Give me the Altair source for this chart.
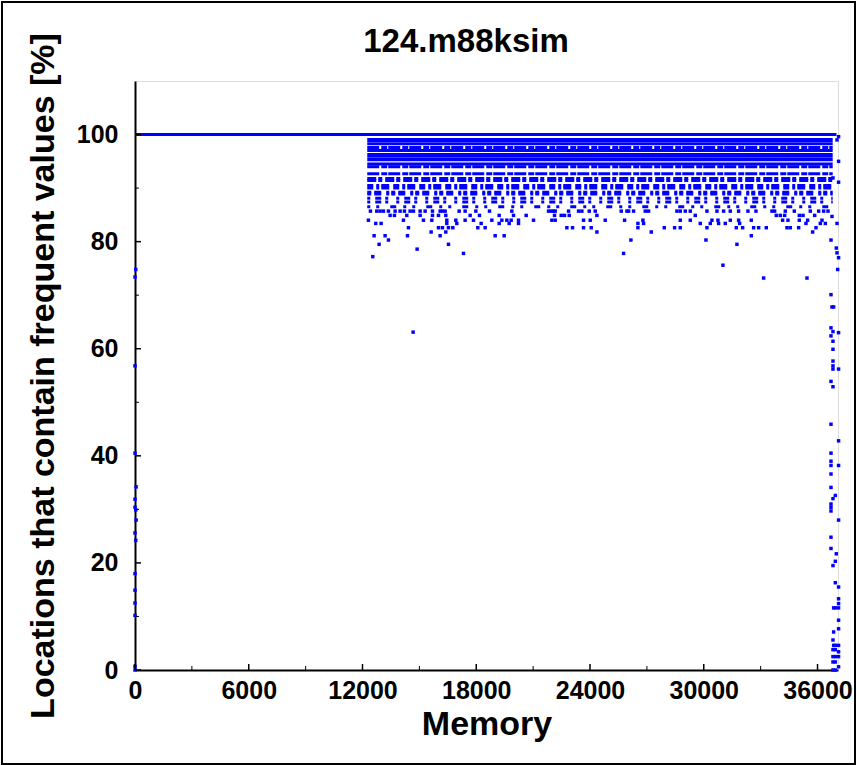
import altair as alt
import pandas as pd

BLUE = "#0000FF"
FONT = "Liberation Sans"

title_text = "124.m88ksim"
x_title = "Memory"
y_title = "Locations that contain frequent values [%]"

x_tick_values = [0, 6000, 12000, 18000, 24000, 30000, 36000]
x_minor_ticks = [3000, 9000, 15000, 21000, 27000, 33000]
y_tick_values = [0, 20, 40, 60, 80, 100]
y_minor_ticks = [10, 30, 50, 70, 90]

# continuous run of locations at 100 %
full_line_start = [0]
full_line_end = [37000]
full_line_level = [100]

# dense band of rows (memory 12250 .. 36800)
band_start = 12250
band_end = 36800
thick_solid_levels = [99.0, 96.2, 95.4]
solid_levels = [98.3, 97.0, 94.5]
near_solid_levels = [97.6, 94.0, 92.7]
dense_levels = [91.8, 91.4]
medium_levels = [90.5, 90.0]
broken_levels = [89.2, 88.9]
sparse_levels = [88.1, 87.4]
very_sparse_levels = [86.5]

# scattered points below the band, per level
row_857 = [12418, 12752, 12928, 13104, 13368, 13720, 13984, 14212, 14511, 14687, 15039, 15303,
           15690, 16094, 16218, 16358, 17097, 17414, 17977, 18698, 19876, 21812, 21953, 22076,
           22164, 22867, 23395, 23571, 23958, 24275, 25647, 25946, 26034, 26297, 26913, 27089,
           28584, 28760, 29024, 29288, 30167, 30695, 31047, 31398, 31838, 32330, 32753, 33597,
           33738, 34301, 34776, 35620, 36060, 36324, 36552]
row_849 = [13456, 13685, 14335, 15039, 15690, 16007, 16393, 17678, 18170, 19208, 19964, 20633,
           22129, 22480, 22656, 22903, 24363, 29551, 33826, 34037, 34266, 35039, 35233, 35849]
row_840 = [12313, 14160, 15215, 15655, 16446, 16921, 17414, 17853, 18821, 19349, 19612, 19841,
           20228, 21020, 21988, 22164, 23659, 24011, 24802, 25823, 26790, 28760, 29288, 30431,
           30748, 31398, 31838, 32506, 34160, 34441, 35039, 35479, 36236]
row_834 = [12700, 12981, 16446, 16974, 18258, 19208, 19736, 20228, 26526, 26825, 29815, 30343,
           30783, 31135, 31891, 35391, 36148, 36412]
row_826 = [14423, 16007, 16218, 16534, 16763, 18082, 18469, 22779, 23078, 23659, 24064, 26526,
           27916, 28461, 28760, 30167, 31715, 32049, 32630, 32894, 33298, 34389, 34565, 35004,
           35919]
row_818 = [15620, 16393, 24363, 27230, 35743]
row_811 = [12612, 13192, 14371, 16094, 18997, 19472, 32506]
row_803 = [13368, 26157, 30114]
row_795 = [12875, 16534, 31750]
row_786 = [14881]
row_778 = [17326, 25770]
row_772 = [12541]
row_756 = [31011]
row_732 = [33157, 35444]
row_631 = [14670]

# column of points at the right end of memory
right_x = [37110, 37027, 37110, 36815, 37110, 36763, 37027, 36710, 36990, 37027, 37110, 37062,
           36710, 36763, 36850, 36710, 36815, 37110, 36710, 36815, 36815, 36815, 36815, 36815,
           37110, 36710, 36815, 36710, 37110, 36710, 36710, 36710, 37110, 36710, 36710, 36940,
           36815, 36710, 36710, 36710, 37110, 36710, 36710, 36990, 36940, 36815, 36940, 37110,
           37110, 37110, 36850, 36940, 37110, 37110, 37110, 36850, 36815, 36850, 36940, 37110,
           36815, 36940, 37110, 36815, 36940, 37110, 36815, 36940, 37110, 36815, 36940]
right_y = [99.6, 99.0, 95.0, 91.9, 91.1, 84.7, 83.4, 80.3, 78.8, 77.9, 77.0, 74.8,
           70.1, 67.8, 67.8, 63.9, 63.2, 63.0, 62.4, 61.4, 59.9, 57.7, 56.8, 56.2,
           56.2, 53.9, 52.9, 45.9, 42.8, 40.5, 39.0, 38.2, 38.2, 36.6, 34.1, 32.6,
           32.0, 31.0, 30.4, 29.7, 28.0, 24.8, 22.7, 21.7, 20.3, 19.5, 16.3, 15.5,
           13.3, 12.4, 11.6, 11.6, 11.6, 9.3, 7.7, 7.1, 5.6, 4.6, 4.6, 4.6,
           3.8, 3.8, 3.4, 2.5, 2.5, 2.5, 1.5, 1.5, 0.6, 0.0, 0.0]

# column of points at the start of memory
left_x = [40, 0, 0, 0, 60, 0, 0, 40, 60, 0, 40, 0, 0, 0, 0, 0, 0]
left_y = [74.8, 73.4, 56.8, 40.5, 34.2, 31.9, 30.4, 29.9, 28.0, 25.6, 24.2, 18.0, 14.9, 12.5,
          10.2, 0.7, 0.0]

# ---------------------------------------------------------------- tables
scatter_rows = [
    (85.7, row_857), (84.9, row_849), (84.0, row_840), (83.4, row_834), (82.6, row_826),
    (81.8, row_818), (81.1, row_811), (80.3, row_803), (79.5, row_795), (78.6, row_786),
    (77.8, row_778), (77.2, row_772), (75.6, row_756), (73.2, row_732), (63.1, row_631),
]
pts_x, pts_y = [], []
for lvl, xs_ in scatter_rows:
    pts_x += xs_
    pts_y += [lvl] * len(xs_)
pts_x += right_x + left_x
pts_y += right_y + left_y
points_df = pd.DataFrame({"x": pts_x, "y": pts_y})

W, H = 703, 589
xs = alt.Scale(domain=[0, 37080], nice=False, zero=False)
ys = alt.Scale(domain=[0, 110], nice=False, zero=False)

x_axis = alt.Axis(values=x_tick_values, format="d", tickSize=0, grid=False, title=x_title,
                  labelFont=FONT, labelFontSize=25, labelFontWeight="bold", labelColor="black",
                  labelPadding=8, titleFont=FONT, titleFontSize=34, titleFontWeight="bold",
                  titleColor="black", titlePadding=4, domainColor="black", domainWidth=2,
                  labelFlush=False, labelOverlap=False)
y_axis = alt.Axis(values=y_tick_values, format="d", tickSize=0, grid=False, title=y_title,
                  labelFont=FONT, labelFontSize=25, labelFontWeight="bold", labelColor="black",
                  labelPadding=17, titleFont=FONT, titleFontSize=34, titleFontWeight="bold",
                  titleColor="black", titlePadding=16, domainColor="black", domainWidth=2,
                  labelFlush=False, labelOverlap=False)


def rows_chart(levels, start, end, width, dash=None):
    df = pd.DataFrame({"x0": [start] * len(levels), "x1": [end] * len(levels), "y": levels})
    kw = dict(color=BLUE, strokeWidth=width)
    if dash is not None:
        kw["strokeDash"] = dash
    return alt.Chart(df).mark_rule(**kw).encode(
        x=alt.X("x0:Q", scale=xs, axis=x_axis),
        x2="x1:Q",
        y=alt.Y("y:Q", scale=ys, axis=y_axis),
    )


full_df = pd.DataFrame({"x0": full_line_start, "x1": full_line_end, "y": full_line_level})
full_line = alt.Chart(full_df).mark_rule(color=BLUE, strokeWidth=3).encode(
    x=alt.X("x0:Q", scale=xs, axis=x_axis), x2="x1:Q", y=alt.Y("y:Q", scale=ys, axis=y_axis))

layers = [
    full_line,
    rows_chart(thick_solid_levels, band_start, band_end, 4),
    rows_chart(solid_levels, band_start, band_end, 3),
    rows_chart(near_solid_levels, band_start, band_end, 3, [12, 2, 6, 1]),
    rows_chart(dense_levels, band_start, band_end, 3, [9, 2, 4, 3]),
    rows_chart(medium_levels, band_start, band_end, 3, [6, 3, 3, 2, 8, 4]),
    rows_chart(broken_levels, band_start, band_end, 3, [4, 3, 7, 5, 3, 2]),
    rows_chart(sparse_levels, band_start, band_end, 3, [3, 5, 6, 4, 3, 8]),
    rows_chart(very_sparse_levels, band_start, band_end, 3, [3, 6, 3, 11, 6, 7]),
]

points = alt.Chart(points_df).mark_square(size=12, color=BLUE, opacity=1).encode(
    x=alt.X("x:Q", scale=xs, axis=x_axis), y=alt.Y("y:Q", scale=ys, axis=y_axis))
layers.append(points)

# inward tick marks
xt_major = alt.Chart(pd.DataFrame({"t": x_tick_values})).mark_rule(color="black", strokeWidth=1.5).encode(
    x=alt.X("t:Q", scale=xs, axis=x_axis), y=alt.value(H), y2=alt.value(H - 6))
xt_minor = alt.Chart(pd.DataFrame({"t": x_minor_ticks})).mark_rule(color="black", strokeWidth=1).encode(
    x=alt.X("t:Q", scale=xs, axis=x_axis), y=alt.value(H), y2=alt.value(H - 4))
yt_major = alt.Chart(pd.DataFrame({"t": y_tick_values})).mark_rule(color="black", strokeWidth=1.5).encode(
    y=alt.Y("t:Q", scale=ys, axis=y_axis), x=alt.value(0), x2=alt.value(6))
yt_minor = alt.Chart(pd.DataFrame({"t": y_minor_ticks})).mark_rule(color="black", strokeWidth=1).encode(
    y=alt.Y("t:Q", scale=ys, axis=y_axis), x=alt.value(0), x2=alt.value(4))
layers += [xt_major, xt_minor, yt_major, yt_minor]

# chart title as text
title_mark = alt.Chart(pd.DataFrame({"t": [title_text]})).mark_text(
    font=FONT, fontSize=33, fontWeight="bold", color="black", align="center",
    baseline="alphabetic").encode(text="t:N", x=alt.value(331), y=alt.value(-29))
layers.append(title_mark)

# outer picture frame
frame = alt.Chart(pd.DataFrame({"a": [0]})).mark_rect(
    fillOpacity=0, stroke="black", strokeWidth=2).encode(
    x=alt.value(-133), x2=alt.value(W + 17), y=alt.value(-79), y2=alt.value(H + 94))
layers.append(frame)

chart = alt.layer(*layers).properties(
    width=W, height=H,
    autosize=alt.AutoSizeParams(type="none"),
    padding={"left": 135, "top": 81, "right": 19, "bottom": 95},
).configure_view(stroke="black", strokeWidth=1.5).configure(background="white")

chart.save("out.html", embed_options={"renderer": "svg", "actions": False})
